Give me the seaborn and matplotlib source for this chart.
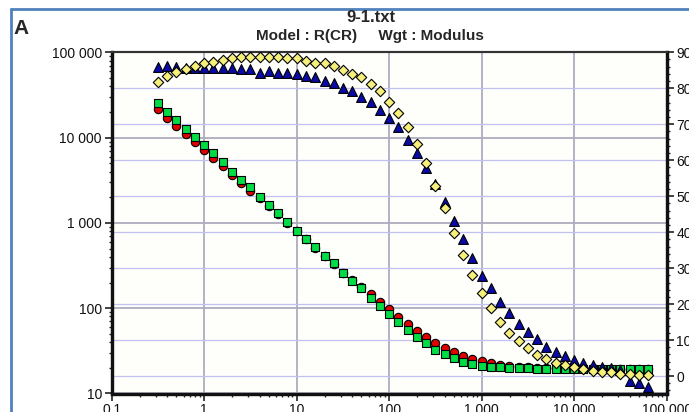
import numpy as np
import pandas as pd
import matplotlib
matplotlib.use('Agg')
import matplotlib.pyplot as plt
import matplotlib.ticker as mticker
import matplotlib.transforms as mtransforms
from matplotlib.lines import Line2D
import seaborn as sns

# frequency (Hz), 10 points per decade
freq = [0.316, 0.398, 0.501, 0.631, 0.794,
        1.0, 1.26, 1.58, 2.0, 2.51, 3.16, 3.98, 5.01, 6.31, 7.94,
        10.0, 12.6, 15.8, 20.0, 25.1, 31.6, 39.8, 50.1, 63.1, 79.4,
        100, 126, 158, 200, 251, 316, 398, 501, 631, 794,
        1000, 1259, 1585, 1995, 2512, 3162, 3981, 5012, 6310, 7943,
        10000, 12589, 15849, 19953, 25119, 31623, 39811, 50119, 63096]

# |Z| (left axis)
z_red = [21500, 17100, 13700, 10900, 8880, 7160, 5770, 4650, 3610, 2910,
         2345, 1940, 1560, 1260, 990, 795, 640, 510, 405, 333,
         262, 212, 179, 147, 118, 98.7, 79.4, 65.3, 54.5, 45.6,
         39.4, 34.2, 30.7, 27.7, 25.6, 24.0, 22.6, 21.4, 20.8, 20.4,
         20.2, 20.0, 19.9, 19.8, 19.8, 19.7, 19.7, 19.7, 19.6, 19.6,
         19.6, 19.6, 19.6, 19.6]
z_green = [25200, 19950, 16100, 12600, 10100, 8270, 6550, 5130, 3980, 3210,
           2610, 2030, 1620, 1306, 1016, 811, 653, 517, 409, 336,
           261, 210, 171, 133, 106, 85.5, 69.5, 55.5, 46.4, 38.8,
           32.4, 29.0, 26.3, 23.4, 22.2, 21.0, 20.6, 20.3, 20.1, 19.9,
           19.7, 19.5, 19.4, 19.4, 19.4, 19.4, 19.5, 19.5, 19.5, 19.5,
           19.5, 19.5, 19.5, 19.5]

# -phase (right axis)
phase_blue = [85.9, 86.2, 85.9, 85.5, 85.7, 85.7, 85.7, 85.7, 85.7, 85.3,
              85.3, 84.3, 84.8, 84.3, 84.3, 83.9, 83.3, 83.1, 82.0, 81.5,
              80.2, 79.2, 77.6, 76.2, 73.9, 71.6, 69.1, 65.7, 62.0, 57.7,
              53.3, 48.4, 43.1, 38.0, 32.7, 27.8, 24.5, 20.6, 17.4, 14.6,
              12.3, 10.2, 8.1, 6.8, 5.6, 4.4, 3.5, 3.1, 2.4, 2.1,
              1.7, -1.3, -2.0, -3.0]
phase_yellow = [81.8, 83.3, 84.5, 85.3, 86.2, 86.9, 87.3, 87.8, 88.3, 88.7,
                88.7, 88.7, 88.7, 88.7, 88.3, 88.3, 87.5, 87.1, 86.9, 86.2,
                85.2, 84.1, 83.0, 81.3, 79.2, 76.2, 73.2, 69.1, 64.4, 59.3,
                52.9, 46.6, 39.9, 33.6, 28.1, 23.0, 18.8, 15.1, 11.9, 9.8,
                7.9, 5.8, 4.8, 3.5, 3.1, 2.6, 1.9, 1.5, 1.1, 1.1,
                0.7, 0.7, 0.3, 0.3]

x_ticks = [0.1, 1, 10, 100, 1000, 10000, 100000]
x_ticklabels = ['0.1', '1', '10', '100', '1 000', '10 000', '100 000']
left_ticks = [10, 100, 1000, 10000, 100000]
left_ticklabels = ['10', '100', '1 000', '10 000', '100 000']
right_ticks = [0, 10, 20, 30, 40, 50, 60, 70, 80, 90]
right_ticklabels = [str(t) for t in right_ticks]

sns.set_style('ticks')
plt.rcParams['font.family'] = ['Liberation Sans', 'DejaVu Sans']

df = pd.DataFrame({'freq': freq, 'z_red': z_red, 'z_green': z_green,
                   'phase_blue': phase_blue, 'phase_yellow': phase_yellow})

W, H = 689, 412
fig = plt.figure(figsize=(W / 100, H / 100), dpi=100)
fig.patch.set_facecolor('white')
x0, x1, y0, y1 = 111.7, 666.7, 52.3, 393.5
ax = fig.add_axes([x0 / W, 1 - y1 / H, (x1 - x0) / W, (y1 - y0) / H])
ax.set_xscale('log')
ax.set_yscale('log')
ax2 = ax.twinx()

ms = 36
sns.scatterplot(data=df, x='freq', y='z_red', ax=ax, marker='o', color='#e00000',
                edgecolor='black', linewidth=0.8, s=ms, zorder=3)
sns.scatterplot(data=df, x='freq', y='z_green', ax=ax, marker='s', color='#00dd44',
                edgecolor='black', linewidth=0.8, s=ms - 8, zorder=4)
sns.scatterplot(data=df, x='freq', y='phase_blue', ax=ax2, marker='^', color='#0a0aa8',
                edgecolor='black', linewidth=0.8, s=ms + 14, zorder=3)
sns.scatterplot(data=df, x='freq', y='phase_yellow', ax=ax2, marker='D', color='#f6f07a',
                edgecolor='black', linewidth=0.8, s=ms - 8, zorder=4)

ax.set_xlim(0.1, 100000)
ax.set_ylim(10, 100000)
ax2.set_ylim(-4.86, 90)
for a in (ax, ax2):
    a.set_xlabel('')
    a.set_ylabel('')

ax.set_facecolor('#fefefb')
ax.set_axisbelow(True)
ax.grid(True, which='major', axis='both', color='#adadbf', lw=1.3)
blend = mtransforms.blended_transform_factory(ax.transAxes, ax2.transData)
for v in right_ticks[:-1]:
    ax.plot([0, 1], [v, v], transform=blend, color='#c2c2f2', lw=0.9, zorder=0.8)

ax.set_xticks(x_ticks, x_ticklabels)
ax.xaxis.set_minor_locator(mticker.LogLocator(base=10, subs=range(2, 10), numticks=20))
ax.xaxis.set_minor_formatter(mticker.NullFormatter())
ax.set_yticks(left_ticks, left_ticklabels)
ax.yaxis.set_minor_locator(mticker.LogLocator(base=10, subs=range(2, 10), numticks=20))
ax.yaxis.set_minor_formatter(mticker.NullFormatter())
ax2.set_yticks(right_ticks, right_ticklabels)
ax2.yaxis.set_minor_locator(mticker.MultipleLocator(2))

for a in (ax, ax2):
    a.tick_params(which='major', length=5, width=1.2, direction='out', labelsize=10,
                  pad=2, color='#222222', labelcolor='#111111')
    a.tick_params(which='minor', length=2.5, width=1.0, direction='out', color='#222222')
    for s in ('left', 'bottom', 'right'):
        a.spines[s].set_linewidth(2.3)
        a.spines[s].set_color('#111111')
        a.spines[s].set_visible(True)
    a.spines['top'].set_linewidth(1.5)
    a.spines['top'].set_color('#333333')
    a.spines['top'].set_visible(True)

# headings
fig.text(371 / W, 1 - 18 / H, '9-1.txt', ha='center', va='center',
         fontsize=12, fontweight='bold')
fig.text(370 / W, 1 - 36 / H, 'Model : R(CR)     Wgt : Modulus', ha='center', va='center',
         fontsize=11, fontweight='bold')
fig.text(21 / W, 1 - 28 / H, 'A', ha='center', va='center', fontsize=15, fontweight='bold')

# blue frame of the panel
fig.add_artist(Line2D([11 / W, 11 / W], [0, 1 - 9 / H], color='#4f81bd', lw=2))
fig.add_artist(Line2D([11 / W, 1], [1 - 9 / H, 1 - 9 / H], color='#4f81bd', lw=2))

fig.savefig('out.png', dpi=100)
